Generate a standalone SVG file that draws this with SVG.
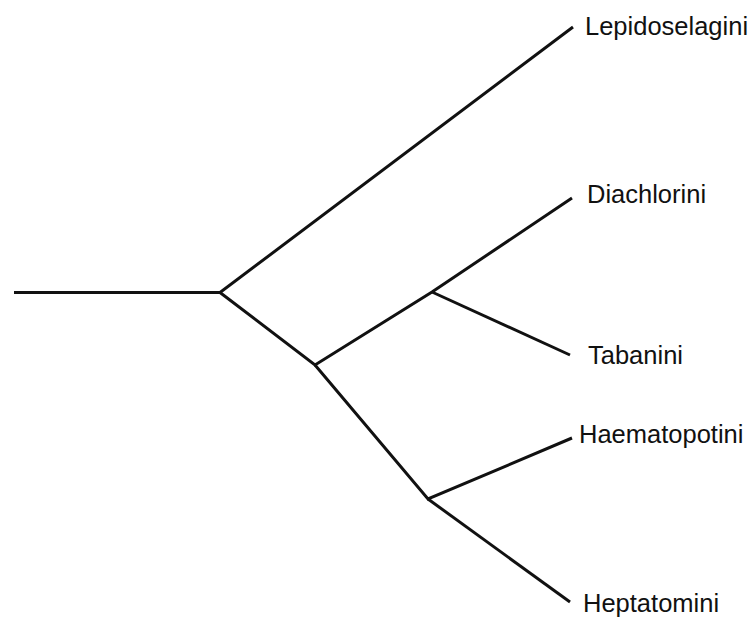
<svg xmlns="http://www.w3.org/2000/svg" width="755" height="617" viewBox="0 0 755 617">
<style>
.e{stroke:#111;stroke-width:3;fill:none;stroke-linecap:butt;stroke-linejoin:miter}
.t{font-family:"Liberation Sans",Arial,sans-serif;font-size:25.5px;fill:#111}
</style>
<rect width="755" height="617" fill="#fff"/>
<g id="connectors">
<polyline class="e" points="14,292.5 220,292.5 573,27"/>
<polyline class="e" points="220,292.5 315,365 432,292 572,198"/>
<polyline class="e" points="432,292 570,355"/>
<polyline class="e" points="315,365 428,499 572,438"/>
<polyline class="e" points="428,499 570,602"/>
</g>
<g id="Lepidoselagini"><text class="t" x="585" y="35">Lepidoselagini</text></g>
<g id="Diachlorini"><text class="t" x="587" y="203">Diachlorini</text></g>
<g id="Tabanini"><text class="t" x="588" y="364">Tabanini</text></g>
<g id="Haematopotini"><text class="t" x="579" y="443">Haematopotini</text></g>
<g id="Heptatomini"><text class="t" x="583" y="612">Heptatomini</text></g>
</svg>
